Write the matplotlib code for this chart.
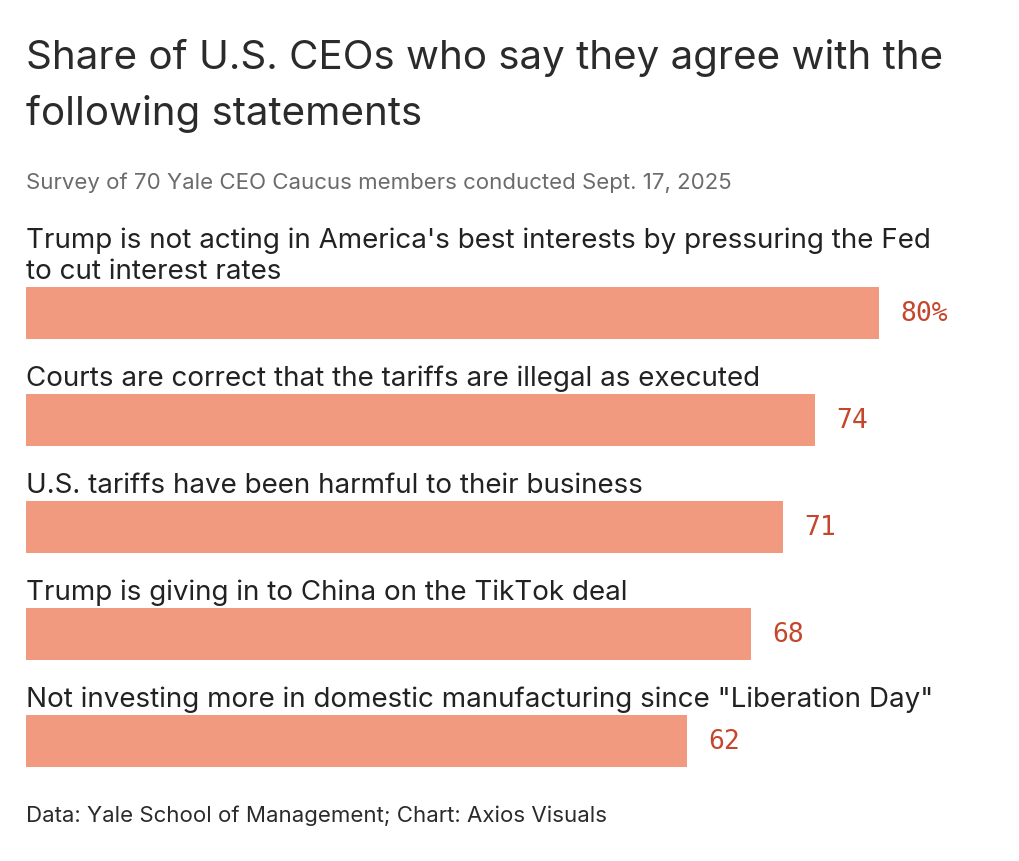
import matplotlib
matplotlib.use('Agg')
import matplotlib.pyplot as plt

statements = [
    "Trump is not acting in America's best interests by pressuring the Fed\nto cut interest rates",
    "Courts are correct that the tariffs are illegal as executed",
    "U.S. tariffs have been harmful to their business",
    "Trump is giving in to China on the TikTok deal",
    "Not investing more in domestic manufacturing since \"Liberation Day\"",
]
shares = [80, 74, 71, 68, 62]
value_labels = ["80%", "74", "71", "68", "62"]

W, H = 1020, 862
fig = plt.figure(figsize=(W / 100, H / 100), dpi=100, facecolor='white')

# axes placed in pixel terms: x from 26 px to right edge, y from 200 to 800 px
ax = fig.add_axes([26 / W, 1 - 800 / H, (W - 26) / W, 600 / H])
ax.set_xlim(0, (W - 26) / 10.66)
ax.set_ylim(4.542, -1.065)
ax.axis('off')

bar_h = 0.486
ypos = list(range(len(shares)))
ax.barh(ypos, shares, height=bar_h, color='#f19a80', left=0)

for y, s, txt, lab in zip(ypos, shares, statements, value_labels):
    ax.annotate(txt, xy=(0, y - bar_h / 2), xytext=(0, 2), textcoords='offset points',
                ha='left', va='bottom', fontsize=20, family='Inter', color='#222222',
                linespacing=1.28)
    ax.annotate(lab, xy=(s, y), xytext=(15.5, 0), textcoords='offset points',
                ha='left', va='center', fontsize=19, family='DejaVu Sans Mono', color='#c4462c')

fig.text(26 / W, 1 - 39 / H, "Share of U.S. CEOs who say they agree with the\nfollowing statements",
         ha='left', va='top', fontsize=29, family='Inter', color='#2b2b2b', linespacing=1.6)
fig.text(26 / W, 1 - 189 / H, "Survey of 70 Yale CEO Caucus members conducted Sept. 17, 2025",
         ha='left', va='baseline', fontsize=16, family='Inter', color='#6b6b6b')
fig.text(26 / W, 1 - 822 / H, "Data: Yale School of Management; Chart: Axios Visuals",
         ha='left', va='baseline', fontsize=16, family='Inter', color='#2b2b2b')

fig.savefig('out.png', dpi=100, facecolor='white')
